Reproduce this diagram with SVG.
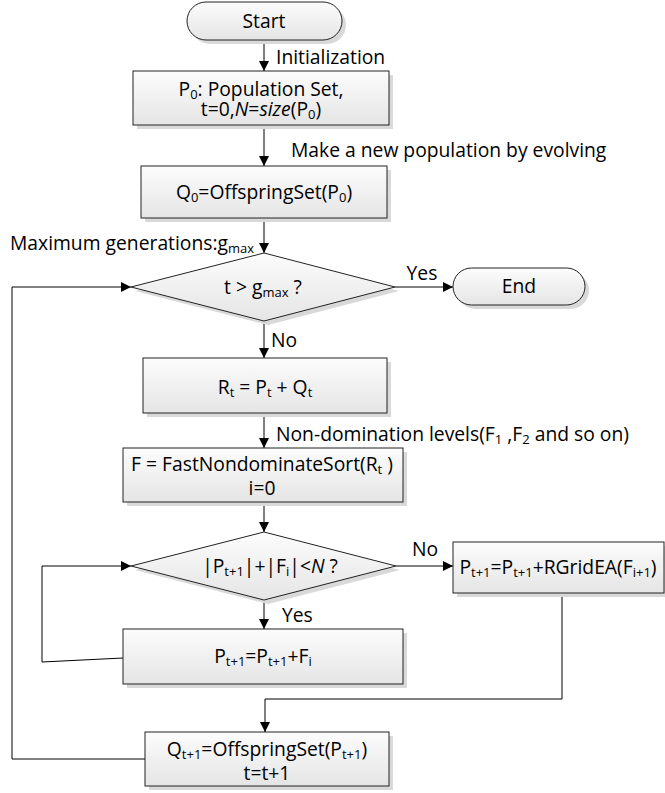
<svg xmlns="http://www.w3.org/2000/svg" width="665" height="793" viewBox="0 0 665 793">
<style>
text{font-family:"Open Sans","Noto Sans",sans-serif;font-size:19.3px;fill:#000}
.c{text-anchor:middle}
.s{font-size:13px}
.shape{stroke:#222;stroke-width:1;fill:url(#g)}
.shadow{fill:#d9d9d9}
.ln{fill:none;stroke:#000;stroke-width:1}
.arr{marker-end:url(#ah)}
</style>
<defs>
<linearGradient id="g" x1="0" y1="0" x2="0" y2="1">
<stop offset="0" stop-color="#fcfcfc"/>
<stop offset="1" stop-color="#e5e5e5"/>
</linearGradient>
<marker id="ah" viewBox="0 0 10 10" refX="10" refY="5" markerWidth="10" markerHeight="10" markerUnits="userSpaceOnUse" orient="auto">
<path d="M0,0 L10,5 L0,10 z" fill="#000"/>
</marker>
</defs>
<rect width="665" height="793" fill="#fff"/>

<g id="connectors">
<path class="ln arr" d="M264,40 V71"/>
<path class="ln arr" d="M264,125 V166"/>
<path class="ln arr" d="M264,218 V253"/>
<path class="ln arr" d="M395,287 H453"/>
<path class="ln arr" d="M264,321 V358"/>
<path class="ln arr" d="M264,413 V448"/>
<path class="ln arr" d="M264,502 V532"/>
<path class="ln arr" d="M396,566 H453"/>
<path class="ln arr" d="M264,600 V629"/>
<path class="ln arr" d="M123,658 L42,662 V566 H131"/>
<path class="ln arr" d="M562,593 V699 H265 V732"/>
<path class="ln arr" d="M145,759 H12 V287 H131"/>
<text x="276" y="64">Initialization</text>
<text x="291" y="157">Make a new population by evolving</text>
<text x="10" y="250">Maximum generations:g<tspan class="s" dy="3">max</tspan></text>
<text x="422" y="280" class="c">Yes</text>
<text x="271" y="347">No</text>
<text x="276" y="441">Non-domination levels(F<tspan class="s" dy="3">1</tspan><tspan dy="-3"> ,F</tspan><tspan class="s" dy="3">2</tspan><tspan dy="-3">  and so on)</tspan></text>
<text x="425" y="556" class="c">No</text>
<text x="282" y="622">Yes</text>
</g>

<g id="start">
<rect class="shadow" x="191" y="6" width="155" height="38" rx="19"/>
<rect class="shape" x="187" y="2" width="155" height="38" rx="19"/>
<text x="264" y="28" class="c">Start</text>
</g>

<g id="init">
<rect class="shadow" x="137" y="75" width="256" height="54"/>
<rect class="shape" x="133" y="71" width="256" height="54"/>
<text x="261" y="96" class="c">P<tspan class="s" dy="3">0</tspan><tspan dy="-3">: Population Set,</tspan></text>
<text x="261" y="116" class="c">t=0,<tspan font-style="italic">N</tspan>=<tspan font-style="italic">size</tspan>(P<tspan class="s" dy="3">0</tspan><tspan dy="-3">)</tspan></text>
</g>

<g id="offspring0">
<rect class="shadow" x="145" y="170" width="246" height="52"/>
<rect class="shape" x="141" y="166" width="246" height="52"/>
<text x="264" y="199" class="c">Q<tspan class="s" dy="3">0</tspan><tspan dy="-3">=OffspringSet(P</tspan><tspan class="s" dy="3">0</tspan><tspan dy="-3">)</tspan></text>
</g>

<g id="cond1">
<polygon class="shadow" points="135,291 268,257 399,291 268,325"/>
<polygon class="shape" points="131,287 264,253 395,287 264,321"/>
<text x="263" y="294" class="c">t &gt; g<tspan class="s" dy="3">max</tspan><tspan dy="-3"> ?</tspan></text>
</g>

<g id="end">
<rect class="shadow" x="457" y="272" width="132" height="37" rx="18.5"/>
<rect class="shape" x="453" y="268" width="132" height="37" rx="18.5"/>
<text x="519" y="293" class="c">End</text>
</g>

<g id="merge">
<rect class="shadow" x="147" y="362" width="244" height="55"/>
<rect class="shape" x="143" y="358" width="244" height="55"/>
<text x="265" y="394" class="c">R<tspan class="s" dy="3">t</tspan><tspan dy="-3"> = P</tspan><tspan class="s" dy="3">t</tspan><tspan dy="-3"> + Q</tspan><tspan class="s" dy="3">t</tspan></text>
</g>

<g id="sort">
<rect class="shadow" x="127" y="452" width="280" height="54"/>
<rect class="shape" x="123" y="448" width="280" height="54"/>
<text x="262" y="471" class="c">F = FastNondominateSort(R<tspan class="s" dy="3">t</tspan><tspan dy="-3"> )</tspan></text>
<text x="262" y="495" class="c">i=0</text>
</g>

<g id="cond2">
<polygon class="shadow" points="135,570 268,536 400,570 268,604"/>
<polygon class="shape" points="131,566 264,532 396,566 264,600"/>
<text x="270" y="573" class="c">|P<tspan class="s" dy="3">t+1</tspan><tspan dy="-3">|+|F</tspan><tspan class="s" dy="3">i</tspan><tspan dy="-3">|&lt;</tspan><tspan font-style="italic">N</tspan> ?</text>
</g>

<g id="rgrid">
<rect class="shadow" x="457" y="546" width="211" height="51"/>
<rect class="shape" x="453" y="542" width="211" height="51"/>
<text x="558" y="574" class="c">P<tspan class="s" dy="3">t+1</tspan><tspan dy="-3">=P</tspan><tspan class="s" dy="3">t+1</tspan><tspan dy="-3">+RGridEA(F</tspan><tspan class="s" dy="3">i+1</tspan><tspan dy="-3">)</tspan></text>
</g>

<g id="addfront">
<rect class="shadow" x="127" y="633" width="280" height="55"/>
<rect class="shape" x="123" y="629" width="280" height="55"/>
<text x="263" y="663" class="c">P<tspan class="s" dy="3">t+1</tspan><tspan dy="-3">=P</tspan><tspan class="s" dy="3">t+1</tspan><tspan dy="-3">+F</tspan><tspan class="s" dy="3">i</tspan></text>
</g>

<g id="offspring">
<rect class="shadow" x="149" y="736" width="244" height="54"/>
<rect class="shape" x="145" y="732" width="244" height="54"/>
<text x="267" y="756" class="c">Q<tspan class="s" dy="3">t+1</tspan><tspan dy="-3">=OffspringSet(P</tspan><tspan class="s" dy="3">t+1</tspan><tspan dy="-3">)</tspan></text>
<text x="267" y="780" class="c">t=t+1</text>
</g>
</svg>
